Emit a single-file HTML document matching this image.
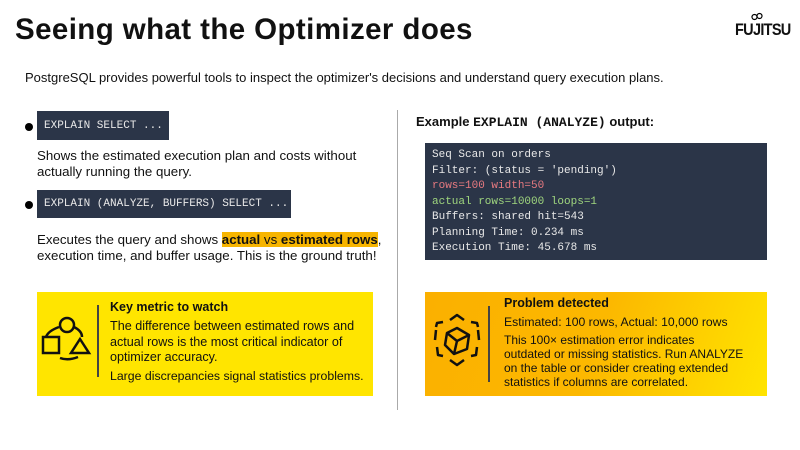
<!DOCTYPE html>
<html><head><meta charset="utf-8"><style>
*{margin:0;padding:0;box-sizing:border-box}
body{width:800px;height:450px;background:#fff;position:relative;overflow:hidden;font-family:"Liberation Sans",sans-serif;color:#111}
.a{position:absolute;white-space:nowrap}
.code{position:absolute;background:#2b3548;color:#e8e8e8;font-family:"Liberation Mono",monospace;font-size:11px;padding-left:7px;display:flex;align-items:center;white-space:nowrap}
.dot{position:absolute;width:8px;height:8px;border-radius:50%;background:#000}
.t{font-size:13.3px;line-height:16px}
.hl{background:#f7b500;font-weight:bold}
</style></head><body>
<div class="a" style="left:15px;top:13px;font-size:29.5px;font-weight:bold;letter-spacing:0.4px">Seeing what the Optimizer does</div>
<div class="a" style="left:735px;top:21px;font-size:16.5px;font-weight:bold;letter-spacing:-0.8px;transform:scaleX(0.88);transform-origin:left">FUJITSU</div>
<svg class="a" style="left:751px;top:12px" width="12" height="9"><circle cx="3.5" cy="5" r="2.5" fill="none" stroke="#000" stroke-width="1.2"/><circle cx="8.5" cy="4" r="2.5" fill="none" stroke="#000" stroke-width="1.2"/></svg>
<div class="a" style="left:25px;top:70px;font-size:13px">PostgreSQL provides powerful tools to inspect the optimizer's decisions and understand query execution plans.</div>

<div class="dot" style="left:25px;top:123px"></div>
<div class="code" style="left:37px;top:111px;width:132px;height:29px">EXPLAIN SELECT ...</div>
<div class="a t" style="left:37px;top:148px">Shows the estimated execution plan and costs without<br>actually running the query.</div>
<div class="dot" style="left:25px;top:201px"></div>
<div class="code" style="left:37px;top:190px;width:254px;height:28px">EXPLAIN (ANALYZE, BUFFERS) SELECT ...</div>
<div class="a t" style="left:37px;top:232px">Executes the query and shows <span class="hl">actual</span><span style="background:#f7b500"> vs </span><span class="hl">estimated rows</span>,<br>execution time, and buffer usage. This is the ground truth!</div>

<div class="a" style="left:37px;top:292px;width:336px;height:104px;background:#ffe500"></div>
<svg class="a" style="left:40px;top:315px" width="55" height="50" fill="none" stroke="#111" stroke-width="2.5">
<circle cx="27" cy="10" r="7"/><rect x="3" y="22" width="16" height="16"/><path d="M40 24 L49 38 L31 38 Z"/>
<path d="M19 12 Q8 16 6 22"/><path d="M34 12 Q42 16 42 22"/><path d="M20 43 Q28 46 38 42"/></svg>
<div class="a" style="left:97px;top:305px;width:2px;height:72px;background:#444"></div>
<div class="a" style="left:110px;top:300px;font-size:12.5px;font-weight:bold">Key metric to watch</div>
<div class="a" style="left:110px;top:319px;font-size:12.6px;line-height:15.5px">The difference between estimated rows and<br>actual rows is the most critical indicator of<br>optimizer accuracy.</div>
<div class="a" style="left:110px;top:369px;font-size:12.3px">Large discrepancies signal statistics problems.</div>

<div class="a" style="left:397px;top:110px;width:1px;height:300px;background:#aaa"></div>

<div class="a" style="left:416px;top:114px;font-size:13px;font-weight:bold">Example <span style="font-family:'Liberation Mono',monospace">EXPLAIN (ANALYZE)</span> output:</div>
<div class="a" style="left:425px;top:143px;width:342px;height:117px;background:#2b3548;font-family:'Liberation Mono',monospace;font-size:11px;line-height:15.5px;color:#e8e8e8;padding:5px 0 0 7px;white-space:pre">Seq Scan on orders
Filter: (status = 'pending')
<span style="color:#e87a80">rows=100 width=50</span>
<span style="color:#9fd67e">actual rows=10000 loops=1</span>
Buffers: shared hit=543
Planning Time: 0.234 ms
Execution Time: 45.678 ms</div>

<div class="a" style="left:425px;top:292px;width:342px;height:104px;background:linear-gradient(110deg,#fbb000 0%,#fcb800 50%,#ffe400 100%)"></div>
<svg class="a" style="left:432px;top:312px" width="50" height="56" fill="none" stroke="#111" stroke-width="2.5" stroke-linejoin="round">
<path d="M25 16 L37 23 L35 37 L22 42 L13 33 L15 21 Z"/><path d="M15 21 L25 29 L37 23 M25 29 L22 42"/>
<path d="M18 8 L25 3 L32 8"/><path d="M18 48 L25 53 L32 48"/><path d="M4 18 L3 28"/><path d="M46 18 L47 28"/>
<path d="M5 35 L6 43 L11 44"/><path d="M45 35 L44 43 L39 44"/><path d="M11 10 L5 11 L4 15"/><path d="M39 10 L45 11 L46 15"/></svg>
<div class="a" style="left:488px;top:306px;width:2px;height:76px;background:#444"></div>
<div class="a" style="left:504px;top:296px;font-size:12.5px;font-weight:bold">Problem detected</div>
<div class="a" style="left:504px;top:315px;font-size:12.2px">Estimated: 100 rows, Actual: 10,000 rows</div>
<div class="a" style="left:504px;top:333px;font-size:12px;line-height:14px">This 100× estimation error indicates<br>outdated or missing statistics. Run ANALYZE<br>on the table or consider creating extended<br>statistics if columns are correlated.</div>
</body></html>
